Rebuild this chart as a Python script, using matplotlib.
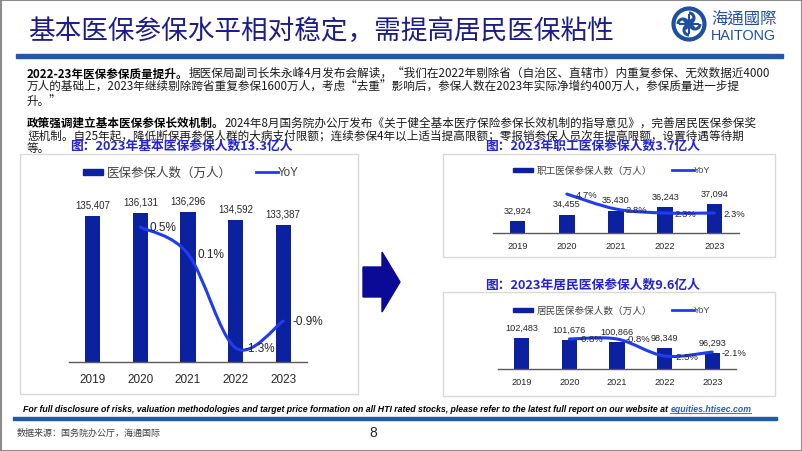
import numpy as np
import matplotlib.pyplot as plt
from matplotlib.patches import Rectangle, Polygon, PathPatch, Circle, Arc
from matplotlib.path import Path

plt.rcParams['font.family'] = ['Noto Sans CJK SC', 'DejaVu Sans']

# data
years = ['2019', '2020', '2021', '2022', '2023']
total = [135407, 136131, 136296, 134592, 133387]
total_yoy = [0.5, 0.1, -1.3, -0.9]          # 2020-2023
staff = [32924, 34455, 35430, 36243, 37094]
staff_yoy = [4.7, 2.8, 2.3, 2.3]
resident = [102483, 101676, 100866, 98349, 96293]
resident_yoy = [-0.8, -0.8, -2.5, -2.1]

BAR = '#0c21a0'
LINE = '#1f3cf0'
NAVY = '#1c1c8a'
LOGO = '#1f50a0'
TITLE_BLUE = '#2222d8'
NUM = 'Liberation Sans'

W, H = 802, 452
fig = plt.figure(figsize=(W / 100, H / 100), dpi=100)
bg = fig.add_axes([0, 0, 1, 1])
bg.set_xlim(0, W); bg.set_ylim(H, 0); bg.axis('off')


def px_axes(x0, y0, x1, y1):
    return fig.add_axes([x0 / W, 1 - y1 / H, (x1 - x0) / W, (y1 - y0) / H])


def smooth_path(xs, ys):
    # bezier through the points, like Excel's "smoothed line"
    pts = np.column_stack([xs, ys]).astype(float)
    n = len(pts)
    verts, codes = [pts[0]], [Path.MOVETO]
    for i in range(n - 1):
        p0, p1, p2, p3 = pts[max(i - 1, 0)], pts[i], pts[i + 1], pts[min(i + 2, n - 1)]
        verts += [p1 + (p2 - p0) / 6, p2 - (p3 - p1) / 6, p2]
        codes += [Path.CURVE4] * 3
    return Path(verts, codes)


def chart(box, vals, yoy, ylim, ylim2, fs_tick, fs_val, fs_yoy, pad):
    ax = px_axes(*box)
    x = np.arange(len(years))
    ax.bar(x, vals, width=0.32, color=BAR, zorder=2)
    ax.set_xlim(-0.5, len(years) - 0.5)
    ax.set_ylim(*ylim)
    ax.set_facecolor('none')
    for s in ['top', 'right', 'left']:
        ax.spines[s].set_visible(False)
    ax.spines['bottom'].set_color('#595959')
    ax.spines['bottom'].set_linewidth(1)
    ax.set_yticks([])
    ax.set_xticks(x, years)
    ax.tick_params(axis='x', length=0, pad=pad, labelsize=fs_tick, labelcolor='#262626')
    for lab in ax.get_xticklabels():
        lab.set_family(NUM)
    for xi, v in zip(x, vals):
        ax.annotate(f'{v:,}', (xi, v), xytext=(0, 8), textcoords='offset points',
                    ha='center', va='center', fontsize=fs_val, family=NUM, color='#262626')
    ax2 = ax.twinx()
    ax2.set_ylim(*ylim2)
    ax2.axis('off')
    xs = x[1:]
    ax2.add_patch(PathPatch(smooth_path(xs, yoy), fill=False, ec=LINE, lw=2.2,
                            capstyle='round', zorder=3))
    for xi, y in zip(xs, yoy):
        ax2.annotate(f'{y:.1f}%', (xi, y), xytext=(6.5, 0), textcoords='offset points',
                     ha='left', va='center', fontsize=fs_yoy, family=NUM, color='#262626', zorder=4)
    return ax


def legend(xp, y, text, xl, fs, fs_yoy, ph):
    bg.add_patch(Rectangle((xp, y - ph / 2), 20, ph, color=BAR))
    bg.text(xp + 24, y, text, va='center', fontsize=fs, color='#404040')
    bg.plot([xl, xl + 22], [y, y], color=LINE, lw=2)
    bg.text(xl + 22, y, 'YoY', va='center', fontsize=fs_yoy, family=NUM, color='#404040')


# slide frame, header
bg.add_patch(Rectangle((0.5, 0.5), W - 1, H - 1, fill=False, ec='#8c8c8c', lw=1.5))
bg.text(28, 31, '基本医保参保水平相对稳定，需提高居民医保粘性', fontsize=19.2, color=NAVY, va='center')
bg.add_patch(Rectangle((16, 55), 767, 4, color='#1f5aa6'))

# logo
bg.add_patch(Circle((689, 25), 15.5, fill=False, ec=LOGO, lw=3))
for ang in [0, 90, 180, 270]:
    t = np.deg2rad(ang)
    cx, cy = 689 + 6 * np.cos(t), 25 + 6 * np.sin(t)
    bg.add_patch(Arc((cx, cy), 10, 10, angle=ang, theta1=0, theta2=250, ec=LOGO, lw=2.2))
bg.plot([680, 698], [25, 25], color=LOGO, lw=1.5)
bg.plot([689, 689], [16, 34], color=LOGO, lw=1.5)
bg.text(711, 20, '海通國際', fontsize=11.8, color=LOGO, va='center',
        family=['Noto Sans CJK TC', 'DejaVu Sans'])
bg.text(711, 36, 'HAITONG', fontsize=10.4, color=LOGO, va='center', family=NUM)

# body text
FS = 8.35
paras = [
    (74, '2022-23年医保参保质量提升。',
     '据医保局副司长朱永峰4月发布会解读，“我们在2022年剔除省（自治区、直辖市）内重复参保、无效数据近4000'),
    (87, '', '万人的基础上，2023年继续剔除跨省重复参保1600万人，考虑“去重”影响后，参保人数在2023年实际净增约400万人，参保质量进一步提'),
    (101, '', '升。”'),
    (123, '政策强调建立基本医保参保长效机制。',
     '2024年8月国务院办公厅发布《关于健全基本医疗保险参保长效机制的指导意见》，完善居民医保参保奖'),
    (135.5, '', '惩机制。自25年起，降低断保再参保人群的大病支付限额；连续参保4年以上适当提高限额；零报销参保人员次年提高限额，设置待遇等待期'),
    (149, '', '等。'),
]
for y, bold, rest in paras:
    if bold:
        b = bg.text(27, y, bold, fontsize=FS, fontweight='bold', color='black', va='center')
        bg.annotate(rest, xy=(1, 0.5), xycoords=b, va='center', ha='left', fontsize=FS, color='#1a1a1a')
    else:
        bg.text(27, y, rest, fontsize=FS, color='#1a1a1a', va='center')

# panels
bg.add_patch(Rectangle((20, 155), 338, 240, fc='white', ec='#d9d9d9', lw=1))
bg.add_patch(Rectangle((443, 155), 332, 103, fc='white', ec='#d9d9d9', lw=1))
bg.add_patch(Rectangle((443, 293), 332, 104, fc='white', ec='#d9d9d9', lw=1))

bg.text(70, 146, '图：2023年基本医保参保人数13.3亿人', fontsize=9.2, fontweight='bold', color=TITLE_BLUE, va='center')
bg.text(485, 146, '图：2023年职工医保参保人数3.7亿人', fontsize=9.2, fontweight='bold', color=TITLE_BLUE, va='center')
bg.text(485, 285, '图：2023年居民医保参保人数9.6亿人', fontsize=9.2, fontweight='bold', color=TITLE_BLUE, va='center')

legend(83, 173, '医保参保人数（万人）', 256, 9, 8.4, 6)
legend(513, 171, '职工医保参保人数（万人）', 672, 6.9, 6.6, 4.5)
legend(513, 311, '居民医保参保人数（万人）', 672, 6.9, 6.6, 4.5)

chart((69, 163, 307, 363), total, total_yoy, (102635, 147528), (-1.51, 1.47), 8.5, 7, 8.5, 8)
chart((493, 165, 739, 234), staff, staff_yoy, (29983, 46895), (-0.23, 8.5), 6.6, 6.6, 6.8, 6)
chart((498, 305, 736, 370), resident, resident_yoy, (89700, 116560), (-3.8, 2.7), 6.6, 6.6, 6.8, 6)

# arrow between panels
bg.add_patch(Polygon([(363, 268), (382, 268), (382, 253), (400, 283), (382, 313),
                      (382, 298), (363, 298)], closed=True, color='#0a0a96'))

# footer
ft = bg.text(23, 410, 'For full disclosure of risks, valuation methodologies and target price formation on all '
             'HTI rated stocks, please refer to the latest full report on our website at ',
             fontsize=6.3, fontstyle='italic', fontweight='bold', family=NUM, color='black', va='center')
link = bg.annotate('equities.htisec.com', xy=(1, 0.5), xycoords=ft, va='center', ha='left',
                   fontsize=6.3, fontstyle='italic', fontweight='bold', family=NUM, color='#1f5fbf')
bg.add_patch(Rectangle((13, 417.5), 764, 3, color='#1f5aa6'))
bg.text(17, 433, '数据来源：国务院办公厅，海通国际', fontsize=6.5, color='#404040', va='center')
bg.text(373, 433, '8', fontsize=10, color='#262626', va='center', ha='center', family=NUM)

fig.canvas.draw()
bb = link.get_window_extent().transformed(bg.transData.inverted())
bg.plot([bb.x0, bb.x1], [bb.y0 - 0.5, bb.y0 - 0.5], color='#1f5fbf', lw=0.6)

fig.savefig('out.png', dpi=100)
